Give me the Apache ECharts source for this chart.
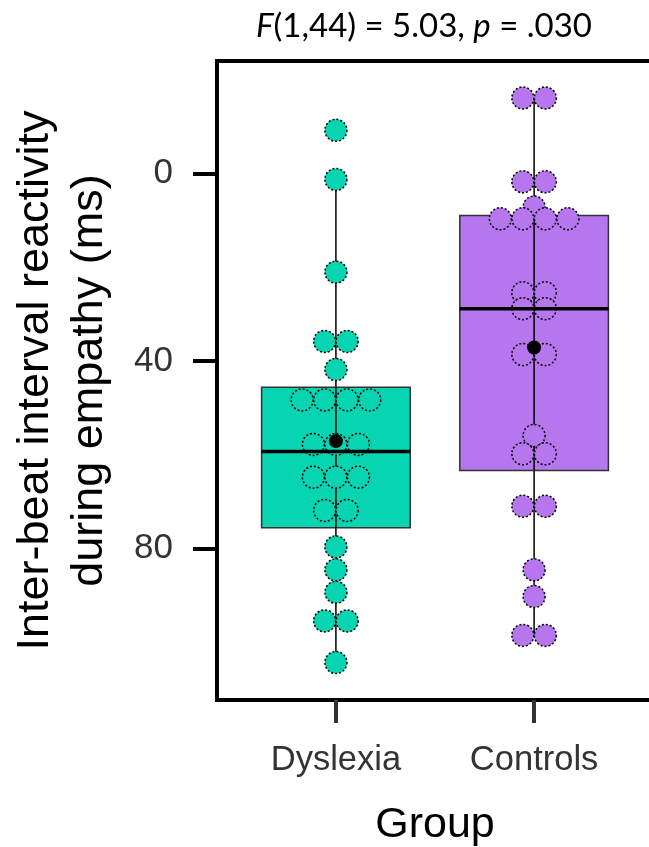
<!DOCTYPE html>
<html>
<head>
<meta charset="utf-8">
<script src="https://cdn.jsdelivr.net/npm/echarts@6/dist/echarts.min.js"></script>
<style>
html,body{margin:0;padding:0;background:#fff;}
#chart{width:649px;height:847px;}
</style>
</head>
<body>
<div id="chart"></div>
<script>
// ---- data ----
const groups = ['Dyslexia', 'Controls'];
const yTicks = [0, 40, 80];
const dyslexiaValues = [-9.3, 1.2, 21.0, 35.8, 35.8, 41.8, 48.3, 48.3, 48.3, 48.3,
  57.8, 57.8, 57.8, 64.8, 64.8, 64.8, 71.9, 71.9, 79.7, 84.6, 89.4, 95.5, 95.5, 104.4];
const controlsValues = [-16.2, -16.2, 1.7, 1.7, 7.1, 9.6, 9.6, 9.6, 9.6, 25.4, 25.4,
  28.8, 28.8, 38.6, 38.6, 55.9, 59.8, 59.8, 71.0, 71.0, 84.6, 90.3, 98.6, 98.6];
const lowerWhisker = [1.2, -16.2];
const q1 = [45.6, 8.9];
const median = [59.3, 28.8];
const q3 = [75.6, 63.4];
const upperWhisker = [104.4, 98.6];
const means = [57.1, 37.1];
const groupColors = ['#07D5B1', '#B677EE'];
const titleText = '{i|F}(1,44) = 5.03, {i|p} = .030';
const yTitle = 'Inter-beat interval reactivity\nduring empathy (ms)';
const xTitle = 'Group';

// ---- build ----
const DOT = 22.5;
function dotData(values, pos) {
  const counts = {};
  values.forEach(v => { counts[v] = (counts[v] || 0) + 1; });
  const seen = {};
  return values.map(v => {
    const n = counts[v];
    const i = seen[v] = (seen[v] === undefined ? 0 : seen[v] + 1);
    return { value: [pos, v], symbolOffset: [(i - (n - 1) / 2) * DOT, 0] };
  });
}
const boxData = groups.map((g, i) => [i + 1, lowerWhisker[i], q1[i], median[i], q3[i], upperWhisker[i]]);
const HALF = 0.375;

const chart = echarts.init(document.getElementById('chart'), null, { renderer: 'canvas' });
chart.setOption({
  animation: false,
  backgroundColor: '#fff',
  grid: { left: 217, top: 61, width: 436, height: 639, containLabel: false, outerBoundsMode: 'none',
    show: true, borderColor: '#000', borderWidth: 4, backgroundColor: 'transparent' },
  graphic: [{
    type: 'text',
    style: { x: 424, y: 26, text: titleText, fontFamily: 'Lato', fontSize: 33, fill: '#000',
      textAlign: 'center', textVerticalAlign: 'middle',
      rich: { i: { fontStyle: 'italic', fontFamily: 'Lato', fontSize: 33, fill: '#000' } } }
  }],
  xAxis: {
    type: 'value', min: 0.4, max: 2.6,
    name: xTitle, nameLocation: 'middle', nameGap: 104,
    nameTextStyle: { fontFamily: 'Liberation Sans', fontSize: 43, color: '#000' },
    axisLine: { show: true, onZero: false, lineStyle: { color: '#000', width: 4 } },
    axisTick: { show: true, customValues: [1, 2], length: 23, lineStyle: { color: '#333', width: 4 } },
    axisLabel: { customValues: [1, 2], margin: 43, fontFamily: 'Liberation Sans', fontSize: 34.5, color: '#333',
      formatter: v => groups[Math.round(v) - 1] },
    splitLine: { show: false }
  },
  yAxis: {
    type: 'value', inverse: true, min: -24.1, max: 112.4,
    name: yTitle, nameLocation: 'middle', nameGap: 100, nameRotate: 90,
    nameTextStyle: { fontFamily: 'Liberation Sans', fontSize: 45, lineHeight: 54, color: '#000' },
    axisLine: { show: true, onZero: false, lineStyle: { color: '#000', width: 4 } },
    axisTick: { show: true, customValues: yTicks, length: 24, lineStyle: { color: '#000', width: 4 } },
    axisLabel: { customValues: yTicks, margin: 44, fontFamily: 'Liberation Sans', fontSize: 35, color: '#333' },
    splitLine: { show: false }
  },
  series: [
    {
      type: 'custom', z: 2,
      data: boxData,
      renderItem: function (params, api) {
        const x = api.value(0);
        const c = groupColors[params.dataIndex];
        const lo = api.coord([x, api.value(1)]);
        const hi = api.coord([x, api.value(5)]);
        const tl = api.coord([x - HALF, api.value(2)]);
        const br = api.coord([x + HALF, api.value(4)]);
        return { type: 'group', children: [
          { type: 'line', shape: { x1: lo[0], y1: lo[1], x2: hi[0], y2: hi[1] }, style: { stroke: '#000', lineWidth: 1.5 } },
          { type: 'rect', shape: { x: tl[0], y: tl[1], width: br[0] - tl[0], height: br[1] - tl[1] },
            style: { fill: c, stroke: '#333', lineWidth: 1.5 } },
          { type: 'line', shape: { x1: lo[0], y1: tl[1], x2: hi[0], y2: br[1] }, style: { stroke: '#000', lineWidth: 1.5 } }
        ] };
      }
    },
    {
      type: 'scatter', z: 3, symbol: 'circle', symbolSize: 22,
      itemStyle: { color: groupColors[0], opacity: 1, borderColor: '#000', borderWidth: 1.5, borderType: [2, 2] },
      data: dotData(dyslexiaValues, 1)
    },
    {
      type: 'scatter', z: 3, symbol: 'circle', symbolSize: 22,
      itemStyle: { color: groupColors[1], opacity: 1, borderColor: '#000', borderWidth: 1.5, borderType: [2, 2] },
      data: dotData(controlsValues, 2)
    },
    {
      type: 'custom', z: 4,
      data: boxData,
      renderItem: function (params, api) {
        const x = api.value(0);
        const l = api.coord([x - HALF, api.value(3)]);
        const r = api.coord([x + HALF, api.value(3)]);
        return { type: 'line', shape: { x1: l[0], y1: l[1], x2: r[0], y2: r[1] }, style: { stroke: '#000', lineWidth: 3.5 } };
      }
    },
    {
      type: 'scatter', z: 5, symbol: 'circle', symbolSize: 14,
      itemStyle: { color: '#000', opacity: 1 },
      data: means.map((m, i) => [i + 1, m])
    }
  ]
});
</script>
</body>
</html>
